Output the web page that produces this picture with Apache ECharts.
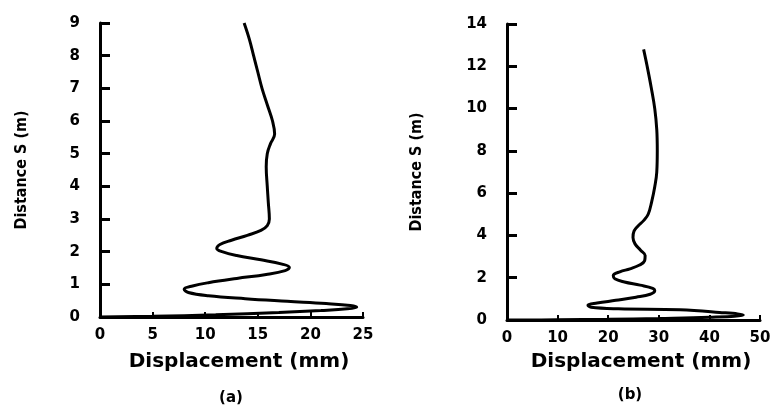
<!DOCTYPE html>
<html>
<head>
<meta charset="utf-8">
<script src="https://cdn.jsdelivr.net/npm/echarts@6/dist/echarts.min.js"></script>
<style>
  html, body { margin: 0; padding: 0; background: #fff; }
  #chart { width: 778px; height: 407px; }
</style>
</head>
<body>
<div id="chart"></div>
<script>
// panel (a)
const dispA = [13.7, 14.2, 14.6, 15.0, 15.4, 15.9, 16.4, 16.6, 16.2, 15.9, 15.8, 15.9, 16.0, 16.1, 15.9, 15.3, 14.0, 12.5, 11.4, 11.1, 11.6, 13.0, 15.3, 17.3, 18.0, 17.6, 15.8, 13.0, 10.3, 8.8, 8.0, 8.4, 10.3, 13.8, 17.8, 21.5, 23.8, 24.4, 23.5, 21.0, 17.0, 11.0, 5.0, 0];
const distA = [9.0, 8.5, 8.0, 7.5, 7.0, 6.5, 6.0, 5.6, 5.3, 5.0, 4.6, 4.0, 3.5, 3.0, 2.8, 2.65, 2.5, 2.35, 2.22, 2.1, 2.0, 1.88, 1.75, 1.62, 1.52, 1.42, 1.3, 1.18, 1.05, 0.95, 0.85, 0.75, 0.65, 0.56, 0.48, 0.41, 0.35, 0.3, 0.25, 0.2, 0.14, 0.07, 0.02, 0];

// panel (b)
const dispB = [27.0, 27.7, 28.5, 29.2, 29.6, 29.7, 29.6, 29.2, 28.6, 27.9, 27.0, 25.9, 25.1, 24.9, 25.3, 26.4, 27.3, 27.2, 26.2, 24.3, 22.3, 21.0, 21.3, 23.2, 26.3, 28.8, 29.2, 28.3, 25.5, 21.5, 17.8, 16.0, 16.6, 22.0, 34.2, 42.0, 46.7, 40.0, 30.0, 20.0, 10.0, 0];
const distB = [12.8, 12.0, 11.0, 10.0, 9.0, 8.0, 7.0, 6.3, 5.6, 5.0, 4.7, 4.45, 4.2, 3.9, 3.6, 3.3, 3.05, 2.8, 2.6, 2.42, 2.28, 2.1, 1.95, 1.8, 1.65, 1.5, 1.38, 1.22, 1.08, 0.93, 0.8, 0.7, 0.6, 0.53, 0.49, 0.36, 0.24, 0.13, 0.07, 0.03, 0.01, 0];

const xTitle = 'Displacement (mm)';
const yTitle = 'Distance S (m)';
const panelLabels = ['(a)', '(b)'];

const pairs = (xs, ys) => xs.map((x, i) => [x, ys[i]]);

const tickFont = { color: '#000', fontFamily: 'DejaVu Sans', fontWeight: 'bold', fontSize: 15 };

function xAxisOf(idx, max, interval, gap) {
  return {
    type: 'value', gridIndex: idx, min: 0, max: max, interval: interval,
    name: xTitle, nameLocation: 'middle', nameGap: gap,
    nameTextStyle: { color: '#000', fontFamily: 'DejaVu Sans', fontWeight: 'bold', fontSize: 20, padding: [0, 0, 0, 15] },
    axisLine: { lineStyle: { color: '#000', width: 3 } },
    axisTick: { inside: true, length: 5, lineStyle: { color: '#000', width: 2 } },
    axisLabel: Object.assign({ margin: 11 }, tickFont),
    splitLine: { show: false }
  };
}

function yAxisOf(idx, max, interval, gap) {
  return {
    type: 'value', gridIndex: idx, min: 0, max: max, interval: interval,
    name: yTitle, nameLocation: 'middle', nameGap: gap, nameRotate: 90,
    nameTextStyle: { color: '#000', fontFamily: 'DejaVu Sans Condensed', fontWeight: 'bold', fontSize: 16 },
    axisLine: { lineStyle: { color: '#000', width: 3 } },
    axisTick: { inside: true, length: 10, lineStyle: { color: '#000', width: 3 } },
    axisLabel: Object.assign({ margin: 20 }, tickFont),
    splitLine: { show: false }
  };
}

const lineStyle = { color: '#000', width: 3 };

const chart = echarts.init(document.getElementById('chart'));
chart.setOption({
  backgroundColor: '#fff',
  animation: false,
  grid: [
    { left: 100, width: 263, top: 23, height: 294 },
    { left: 507, width: 253, top: 24, height: 296 }
  ],
  xAxis: [xAxisOf(0, 25, 5, 35), xAxisOf(1, 50, 10, 32)],
  yAxis: [yAxisOf(0, 9, 1, 70), yAxisOf(1, 14, 2, 82)],
  series: [
    { type: 'line', xAxisIndex: 0, yAxisIndex: 0, data: pairs(dispA, distA), smooth: 0.4, showSymbol: false, lineStyle: lineStyle },
    { type: 'line', xAxisIndex: 1, yAxisIndex: 1, data: pairs(dispB, distB), smooth: 0.4, showSymbol: false, lineStyle: lineStyle }
  ],
  graphic: [
    { type: 'text', x: 231, y: 398, style: { text: panelLabels[0], fill: '#000', font: 'bold 15px "DejaVu Sans"', textAlign: 'center', textVerticalAlign: 'middle' } },
    { type: 'text', x: 630, y: 395, style: { text: panelLabels[1], fill: '#000', font: 'bold 15px "DejaVu Sans"', textAlign: 'center', textVerticalAlign: 'middle' } }
  ]
});
</script>
</body>
</html>
